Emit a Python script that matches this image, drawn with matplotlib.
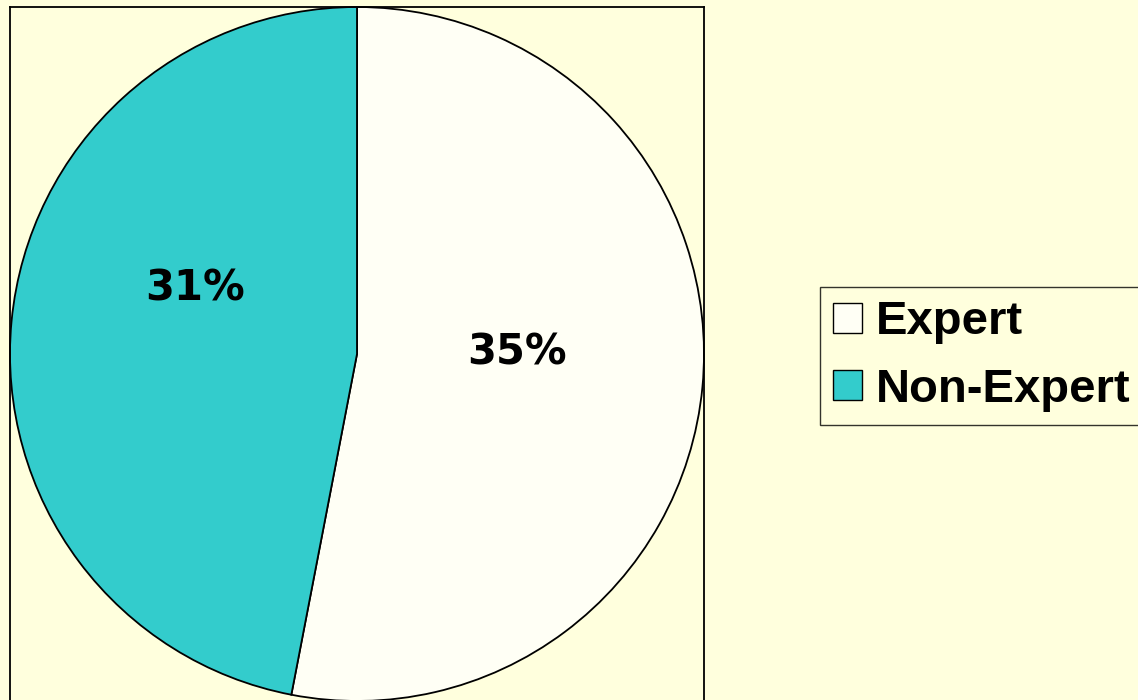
import matplotlib
matplotlib.use("Agg")
import matplotlib.pyplot as plt
from matplotlib.patches import Patch

categories = ["Expert", "Non-Expert"]
values = [35, 31]
colors = ["#FFFFF5", "#33CCCC"]

BG = "#FFFFDD"
# label positions in pie units (radius 1), tuned to the reference layout
label_pos = [(0.46, 0.005), (-0.467, 0.19)]

fig = plt.figure(figsize=(11.38, 7.0), dpi=100, facecolor=BG)
ax = fig.add_axes([10 / 1138, -1 / 700, 694 / 1138, 694 / 700])
ax.set_facecolor(BG)

wedges, texts, autotexts = ax.pie(
    values, colors=colors, startangle=90, counterclock=False,
    autopct=lambda p: f"{round(p * sum(values) / 100):.0f}%",
    wedgeprops=dict(edgecolor="black", linewidth=1.3),
    textprops=dict(fontsize=30, fontweight="bold", color="black"),
    radius=1.0,
)
for t, (x, y) in zip(autotexts, label_pos):
    t.set_position((x, y))

ax.set_xlim(-1.0, 1.0)
ax.set_ylim(-1.0, 1.0)
ax.set_aspect("equal")
ax.set_frame_on(True)
for s in ax.spines.values():
    s.set_visible(True)
    s.set_color("black")
    s.set_linewidth(1.3)
ax.set_xticks([])
ax.set_yticks([])

handles = [Patch(facecolor=c, edgecolor="black", linewidth=1.0) for c in colors]
leg = fig.legend(
    handles, categories, loc="upper left",
    bbox_to_anchor=(820 / 1138, 1 - 287 / 700),
    prop=dict(family="Liberation Sans", weight="bold", size=34),
    frameon=True, fancybox=False, edgecolor="black", facecolor=BG,
    handlelength=0.6, handleheight=0.6, handletextpad=0.3,
    borderpad=0.28, labelspacing=0.5, borderaxespad=0,
)
leg.get_frame().set_linewidth(1.0)

fig.savefig("out.png", dpi=100, facecolor=BG)
